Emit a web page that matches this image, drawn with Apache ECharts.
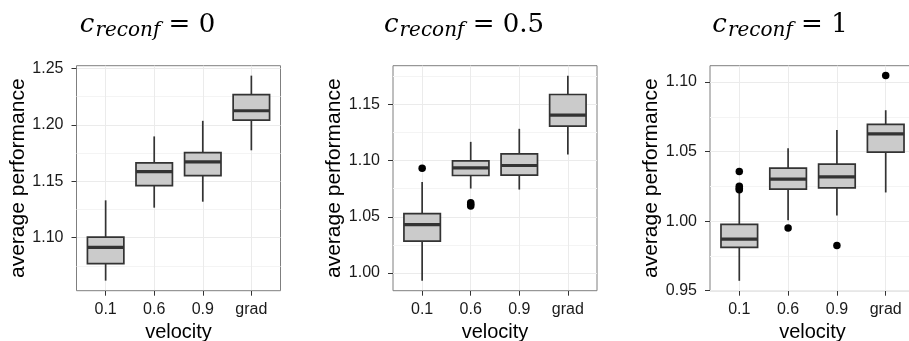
<!DOCTYPE html>
<html><head><meta charset="utf-8">
<script src="https://cdn.jsdelivr.net/npm/echarts@6/dist/echarts.min.js"></script>
<style>html,body{margin:0;padding:0;background:#fff}#c{width:909px;height:341px}</style>
</head><body><div id="c"></div>
<script>
const categories = ['0.1', '0.6', '0.9', 'grad'];
const panelValues = ['0', '0.5', '1'];
// [min, Q1, median, Q3, max] per category
const box0 = [[1.062, 1.077, 1.0915, 1.1006, 1.1331], [1.1266, 1.1461, 1.1585, 1.1662, 1.1897], [1.1319, 1.155, 1.1671, 1.1753, 1.2035], [1.1774, 1.2041, 1.2124, 1.2267, 1.2435]];
const out0 = [];
const box05 = [[0.9932, 1.0283, 1.0431, 1.0528, 1.0810], [1.0751, 1.0867, 1.0935, 1.0997, 1.1166], [1.0742, 1.087, 1.0956, 1.106, 1.1282], [1.1053, 1.1306, 1.1404, 1.1587, 1.1754]];
const out05 = [[1, 1.0932], [2, 1.0625], [2, 1.0610], [2, 1.0595]];
const box1 = [[0.9571, 0.9811, 0.9871, 0.9976, 1.0212], [1.0007, 1.023, 1.0302, 1.0381, 1.0524], [1.0041, 1.0239, 1.0318, 1.041, 1.0654], [1.0206, 1.0496, 1.0627, 1.0695, 1.0797]];
const out1 = [[1, 1.0357], [1, 1.0251], [1, 1.0235], [1, 1.0225], [2, 0.995], [3, 0.9825], [4, 1.1047]];
const yTicks0 = [1.10, 1.15, 1.20, 1.25];
const yMinor0 = [1.075, 1.125, 1.175, 1.225];
const yTicks05 = [1.00, 1.05, 1.10, 1.15];
const yMinor05 = [1.025, 1.075, 1.125, 1.175];
const yTicks1 = [0.95, 1.00, 1.05, 1.10];
const yMinor1 = [0.975, 1.025, 1.075];

const boxes = [box0, box05, box1];
const outs = [out0, out05, out1];
const majors = [yTicks0, yTicks05, yTicks1];
const minors = [yMinor0, yMinor05, yMinor1];
const yRange = [[1.0531, 1.2523], [0.9843, 1.1843], [0.95, 1.1117]];
const grids = [
  {left: 76.5, top: 65.7, width: 204, height: 225},
  {left: 393, top: 65.7, width: 204, height: 225},
  {left: 710, top: 65.7, width: 205, height: 225}
];
const titleX = [142.5, 459, 775];
const FONT = 'Liberation Sans';
const xTickVals = categories.map((c, i) => i + 1);

const option = {
  animation: false,
  backgroundColor: '#ffffff',
  title: [], grid: [], xAxis: [], yAxis: [], series: []
};

for (let p = 0; p < 3; p++) {
  option.title.push({
    text: '{c|c}{s|reconf}{e| = ' + panelValues[p] + '}',
    left: titleX[p], top: 4, textAlign: 'center',
    textStyle: {
      fontWeight: 'normal',
      rich: {
        c: {fontFamily: 'DejaVu Serif', fontStyle: 'italic', fontWeight: 'normal', fontSize: 26, color: '#000', padding: [0, 1, 0, 0]},
        s: {fontFamily: 'DejaVu Serif', fontStyle: 'italic', fontWeight: 'normal', fontSize: 20, color: '#000', padding: [12, 0, 0, 0]},
        e: {fontFamily: 'DejaVu Serif', fontWeight: 'normal', fontSize: 26, color: '#000'}
      }
    }
  });
  option.grid.push(Object.assign({show: true, borderColor: '#7f7f7f', borderWidth: 1, backgroundColor: '#fff', containLabel: false, outerBoundsMode: 'none'}, grids[p]));
  option.xAxis.push({
    type: 'value', gridIndex: p, min: 0.4, max: 4.6,
    name: 'velocity', nameLocation: 'middle', nameGap: 31,
    nameTextStyle: {fontFamily: FONT, fontSize: 20, color: '#000'},
    axisLine: {show: false},
    axisTick: {show: true, customValues: xTickVals, length: 5, lineStyle: {color: '#333', width: 1}},
    axisLabel: {customValues: xTickVals, formatter: v => categories[Math.round(v) - 1] || '', fontFamily: FONT, fontSize: 16, color: '#1a1a1a', margin: 11},
    splitLine: {show: true, lineStyle: {color: '#ebebeb', width: 1}}
  });
  // major y axis
  option.yAxis.push({
    type: 'value', gridIndex: p, min: yRange[p][0], max: yRange[p][1],
    name: 'average performance', nameLocation: 'middle', nameGap: 48,
    nameTextStyle: {fontFamily: FONT, fontSize: 21, color: '#000'},
    axisLine: {show: false},
    axisTick: {show: true, customValues: majors[p], length: 5, lineStyle: {color: '#333', width: 1}},
    axisLabel: {customValues: majors[p], formatter: v => v.toFixed(2), fontFamily: FONT, fontSize: 16, color: '#1a1a1a', margin: 13},
    splitLine: {show: true, lineStyle: {color: '#ebebeb', width: 1}},
    z: 1
  });
  // minor grid y axis
  option.yAxis.push({
    type: 'value', gridIndex: p, min: yRange[p][0], max: yRange[p][1], position: 'left',
    axisLine: {show: false},
    axisTick: {show: false, customValues: minors[p]},
    axisLabel: {show: false, customValues: minors[p]},
    splitLine: {show: true, lineStyle: {color: '#f4f4f4', width: 1}},
    z: 0
  });
  const bdata = boxes[p].map((b, i) => [i + 1].concat(b));
  option.series.push({
    type: 'custom', xAxisIndex: p, yAxisIndex: 2 * p,
    data: bdata, z: 3,
    renderItem: function (params, api) {
      const x = api.value(0);
      const mn = api.coord([x, api.value(1)]);
      const q1 = api.coord([x, api.value(2)]);
      const md = api.coord([x, api.value(3)]);
      const q3 = api.coord([x, api.value(4)]);
      const mx = api.coord([x, api.value(5)]);
      const w = api.size([0.75, 0])[0];
      const cx = mn[0];
      const ls = {stroke: '#333333', lineWidth: 1.7};
      return {
        type: 'group',
        children: [
          {type: 'line', shape: {x1: cx, y1: mx[1], x2: cx, y2: q3[1]}, style: ls},
          {type: 'line', shape: {x1: cx, y1: q1[1], x2: cx, y2: mn[1]}, style: ls},
          {type: 'rect', shape: {x: cx - w / 2, y: q3[1], width: w, height: q1[1] - q3[1]}, style: {fill: '#cbcbcb', stroke: '#333333', lineWidth: 1.7}},
          {type: 'line', shape: {x1: cx - w / 2, y1: md[1], x2: cx + w / 2, y2: md[1]}, style: {stroke: '#333333', lineWidth: 3.2}}
        ]
      };
    }
  });
  option.series.push({
    type: 'scatter', xAxisIndex: p, yAxisIndex: 2 * p,
    data: outs[p], symbol: 'circle', symbolSize: 7.5, z: 4,
    itemStyle: {color: '#000', opacity: 1}
  });
}

const chart = echarts.init(document.getElementById('c'), null, {renderer: 'canvas'});
chart.setOption(option);
</script>
</body></html>
